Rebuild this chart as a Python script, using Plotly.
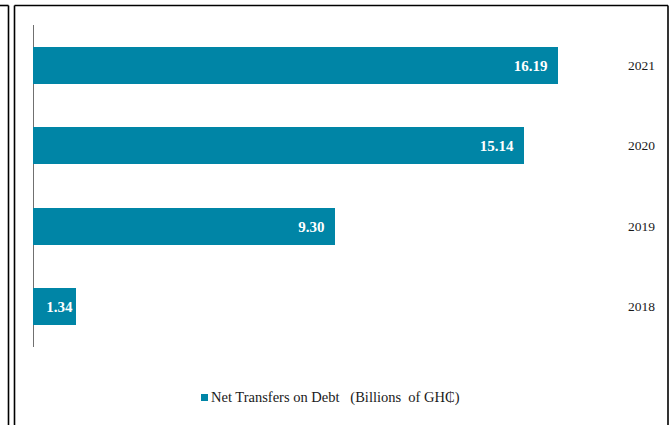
import plotly.graph_objects as go

# Net transfers on debt, billions of GH₵
years = ["2018", "2019", "2020", "2021"]
values = [1.34, 9.30, 15.14, 16.19]
series_name = "Net Transfers on Debt\u00a0\u00a0\u00a0(Billions\u00a0\u00a0of GH\u20b5)"

BAR_COLOR = "#0085A6"
SERIF = "Liberation Serif, Times New Roman, serif"

W, H = 672, 425
M_L, M_R, M_T, M_B = 33, 55, 25, 78
PW, PH = W - M_L - M_R, H - M_T - M_B


def px_to_paper(px, py):
    return (px - M_L) / PW, 1 - (py - M_T) / PH


# short bars keep their label centred, long bars get it near the end
label_fmt = ["%{x:.2f}" if v < 3 else "%{x:.2f}\u00a0\u00a0" for v in values]

fig = go.Figure()
fig.add_trace(go.Bar(
    x=values,
    y=years,
    orientation="h",
    width=0.46,
    name=series_name,
    marker=dict(color=BAR_COLOR, line=dict(width=0)),
    texttemplate=label_fmt,
    textposition="inside",
    insidetextanchor="end",
    textfont=dict(family=SERIF, size=15, color="white", weight="bold"),
    showlegend=False,
    hoverinfo="skip",
))

# page frame lines
frame = [
    ((8.5, 5.5), (8.5, 440)),
    ((0, 5.5), (8.5, 5.5)),
    ((14.5, 5.5), (14.5, 440)),
    ((14.5, 5.5), (668, 5.5)),
    ((668, 5.5), (668, 440)),
]
shapes = []
for (x0, y0), (x1, y1) in frame:
    a0, b0 = px_to_paper(x0, y0)
    a1, b1 = px_to_paper(x1, y1)
    shapes.append(dict(type="line", xref="paper", yref="paper",
                       x0=a0, y0=b0, x1=a1, y1=b1,
                       line=dict(color="black", width=1.6)))
# category axis line at zero
shapes.append(dict(type="line", xref="x", yref="paper", x0=0, x1=0, y0=0, y1=1,
                   line=dict(color="#222222", width=1.3), layer="below"))

# legend key: small square followed by the series label
k0 = px_to_paper(201, 394)
k1 = px_to_paper(208, 401)
shapes.append(dict(type="rect", xref="paper", yref="paper",
                   x0=k0[0], y0=k0[1], x1=k1[0], y1=k1[1],
                   fillcolor=BAR_COLOR, line=dict(width=0)))
tx, ty = px_to_paper(209, 397)

fig.update_layout(
    width=W, height=H,
    margin=dict(l=M_L, r=M_R, t=M_T, b=M_B),
    paper_bgcolor="white", plot_bgcolor="white",
    font=dict(family=SERIF, color="#1a1a1a"),
    bargap=0,
    showlegend=False,
    xaxis=dict(range=[0, 18], visible=False, fixedrange=True),
    yaxis=dict(type="category", categoryorder="array", categoryarray=years,
               side="right", showline=False, showgrid=False, zeroline=False,
               ticks="", ticklabelstandoff=10,
               tickfont=dict(family=SERIF, size=13.5, color="#1a1a1a")),
    annotations=[dict(xref="paper", yref="paper", x=tx, y=ty,
                      xanchor="left", yanchor="middle", showarrow=False,
                      text=series_name,
                      font=dict(family=SERIF, size=14.5, color="#1a1a1a"))],
    shapes=shapes,
)

fig.write_html("out.html")
